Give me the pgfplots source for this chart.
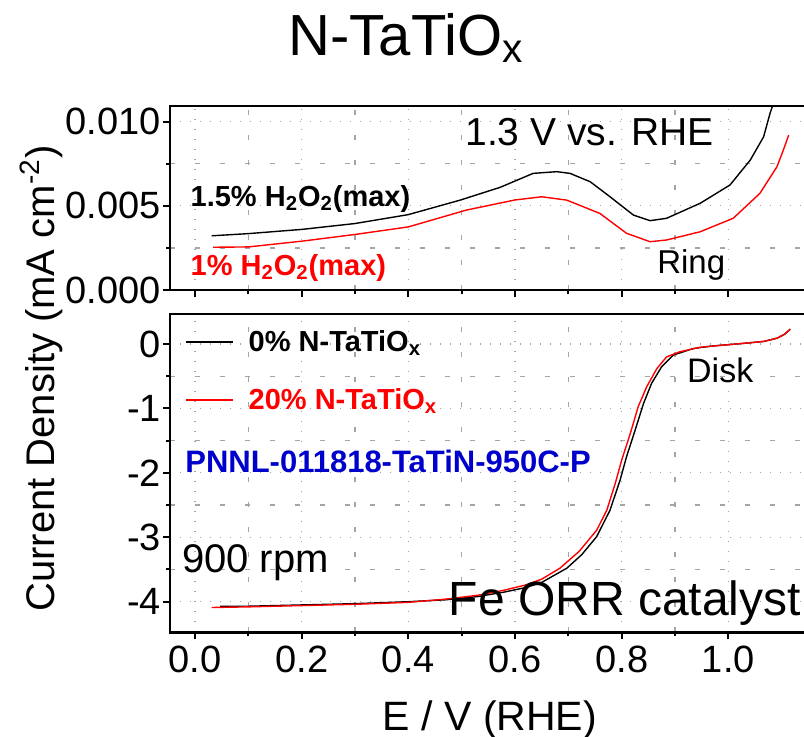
\documentclass[border=0pt]{standalone}
\usepackage{fontspec}
\setmainfont{Liberation Sans}
\usepackage{pgfplots}
\pgfplotsset{compat=1.18}
\definecolor{myblue}{RGB}{0,0,204}
\definecolor{gridc}{RGB}{165,165,165}
\newcommand{\fs}[1]{\fontsize{#1}{#1}\selectfont}
\pgfplotsset{
  common/.style={
    scale only axis, width=318pt, xmin=-0.047, xmax=1.1455,
    xtick={0,0.2,0.4,0.6,0.8,1.0}, minor x tick num=1, minor y tick num=1,
    xtick pos=left, ytick pos=left, tick align=outside,
    major tick length=3.5pt, minor tick length=2pt,
    grid=both,
    major grid style={gridc, line width=0.6pt, dash pattern=on 0.6pt off 4.4pt},
    minor grid style={gridc, line width=0.6pt, dash pattern=on 2.5pt off 10pt},
    axis line style={line width=1.2pt},
    every tick/.style={black, line width=1pt},
    every minor tick/.style={black, line width=1pt},
    tick label style={font=\fs{19}},
    yticklabel style={xshift=2.5pt},
    /pgf/number format/assume math mode=true,
    clip mode=individual,
  }
}
\begin{document}
\begin{tikzpicture}
\useasboundingbox (-85pt,-51.85pt) rectangle (317pt,316.15pt);
% bottom panel (disk)
\begin{axis}[common, name=bot, at={(0,0)}, anchor=south west,
  height=159.15pt, ymin=-4.475, ymax=0.466,
  ytick={-4,-3,-2,-1,0},
  xticklabel style={/pgf/number format/.cd, fixed, fixed zerofill, precision=1},
  xlabel={E / V (RHE)},
  xlabel style={font=\fs{20.5}, at={(rel axis cs:0.503,-0.307)}, anchor=base},
  ylabel={Current Density (mA cm\textsuperscript{-2})},
  ylabel style={font=\fs{20}, at={(rel axis cs:-0.181,0.797)}, anchor=base},
  legend cell align=left,
  legend style={draw=none, fill=none, at={(axis cs:-0.019,-0.42)}, anchor=west,
    inner sep=0pt, row sep=13pt, font=\bfseries\fs{14.5},
    /tikz/every odd column/.append style={column sep=5.5pt}},
  legend image code/.code={\draw[#1] (0pt,0pt) -- (23.5pt,0pt);},
]
\addplot[black, line width=0.7pt, mark=none] coordinates {
(0.047,-4.07) (0.1,-4.07) (0.2,-4.05) (0.3,-4.03) (0.4,-4.0) (0.47,-3.97)
(0.53,-3.92) (0.58,-3.85) (0.62,-3.78) (0.65,-3.70) (0.697,-3.48) (0.725,-3.27)
(0.753,-2.99) (0.778,-2.58) (0.797,-2.11) (0.809,-1.75) (0.825,-1.34) (0.841,-0.92)
(0.856,-0.61) (0.875,-0.35) (0.897,-0.17) (0.934,-0.07) (0.97,-0.03) (1.0,-0.01)
(1.028,0.01) (1.066,0.04) (1.091,0.09) (1.105,0.15) (1.116,0.23)};
\addlegendentry{0\% N-TaTiO\textsubscript{x}}
\addplot[red, line width=0.7pt, mark=none] coordinates {
(0.031,-4.09) (0.1,-4.08) (0.2,-4.06) (0.3,-4.04) (0.4,-4.01) (0.47,-3.96)
(0.53,-3.9) (0.58,-3.82) (0.62,-3.74) (0.65,-3.65) (0.684,-3.48) (0.72,-3.22)
(0.753,-2.89) (0.772,-2.58) (0.788,-2.16) (0.800,-1.80) (0.816,-1.39) (0.831,-0.97)
(0.847,-0.66) (0.866,-0.38) (0.884,-0.20) (0.909,-0.12) (0.947,-0.05) (1.0,-0.01)
(1.028,0.01) (1.066,0.04) (1.091,0.09) (1.105,0.15) (1.116,0.23)};
\addlegendentry{\textcolor{red}{20\% N-TaTiO\textsubscript{x}}}
\node[anchor=base west, inner sep=0pt, font=\bfseries\fs{15.5}, text=myblue] at (axis cs:-0.019,-1.99) {PNNL-011818-TaTiN-950C-P};
\node[anchor=base west, inner sep=0pt, font=\fs{20}] at (axis cs:-0.025,-3.54) {900 rpm};
\node[anchor=base west, inner sep=0pt, font=\fs{24}] at (axis cs:0.475,-4.21) {Fe ORR catalyst};
\node[anchor=base west, inner sep=0pt, font=\fs{17}] at (axis cs:0.922,-0.60) {Disk};
\end{axis}
% top panel (ring)
\begin{axis}[common, name=top, at={(0,171.15pt)}, anchor=south west,
  height=92.15pt, ymin=0, ymax=0.01095,
  ytick={0,0.005,0.010}, scaled y ticks=false,
  yticklabel style={/pgf/number format/.cd, fixed, fixed zerofill, precision=3},
  xticklabels={},
]
\addplot[black, line width=0.7pt, mark=none] coordinates {
(0.031,0.00322) (0.1,0.00335) (0.2,0.00360) (0.3,0.00395) (0.4,0.00448)
(0.497,0.00534) (0.572,0.00610) (0.634,0.00693) (0.678,0.00703) (0.703,0.00693)
(0.741,0.00643) (0.778,0.00554) (0.822,0.00445) (0.853,0.00412) (0.884,0.00426)
(0.947,0.00515) (1.003,0.00624) (1.041,0.00772) (1.066,0.00910) (1.078,0.01049)
(1.092,0.01180)};
\addplot[red, line width=0.7pt, mark=none] coordinates {
(0.034,0.00254) (0.1,0.00256) (0.2,0.00290) (0.3,0.00330) (0.4,0.00375)
(0.509,0.00475) (0.6,0.00535) (0.65,0.00554) (0.697,0.00534) (0.759,0.00455)
(0.809,0.00337) (0.853,0.00287) (0.884,0.00297) (0.947,0.00346) (1.009,0.00426)
(1.059,0.00574) (1.091,0.00732) (1.103,0.00831) (1.113,0.00920)};
\node[anchor=base, inner sep=0pt, font=\fs{29}] at (axis cs:0.3957,0.01395) {N-TaTiO\textsubscript{x}};
\node[anchor=base west, inner sep=0pt, font=\fs{19.5}] at (axis cs:0.506,0.00861) {1.3 V vs. RHE};
\node[anchor=base west, inner sep=0pt, font=\fs{16.5}] at (axis cs:0.866,0.00099) {Ring};
\node[anchor=base west, inner sep=0pt, font=\bfseries\fs{14.5}] at (axis cs:-0.009,0.00499) {1.5\% H\textsubscript{2}O\textsubscript{2}(max)};
\node[anchor=base west, inner sep=0pt, font=\bfseries\fs{14.5}, text=red] at (axis cs:-0.009,0.00089) {1\% H\textsubscript{2}O\textsubscript{2}(max)};
\end{axis}
\end{tikzpicture}
\end{document}
